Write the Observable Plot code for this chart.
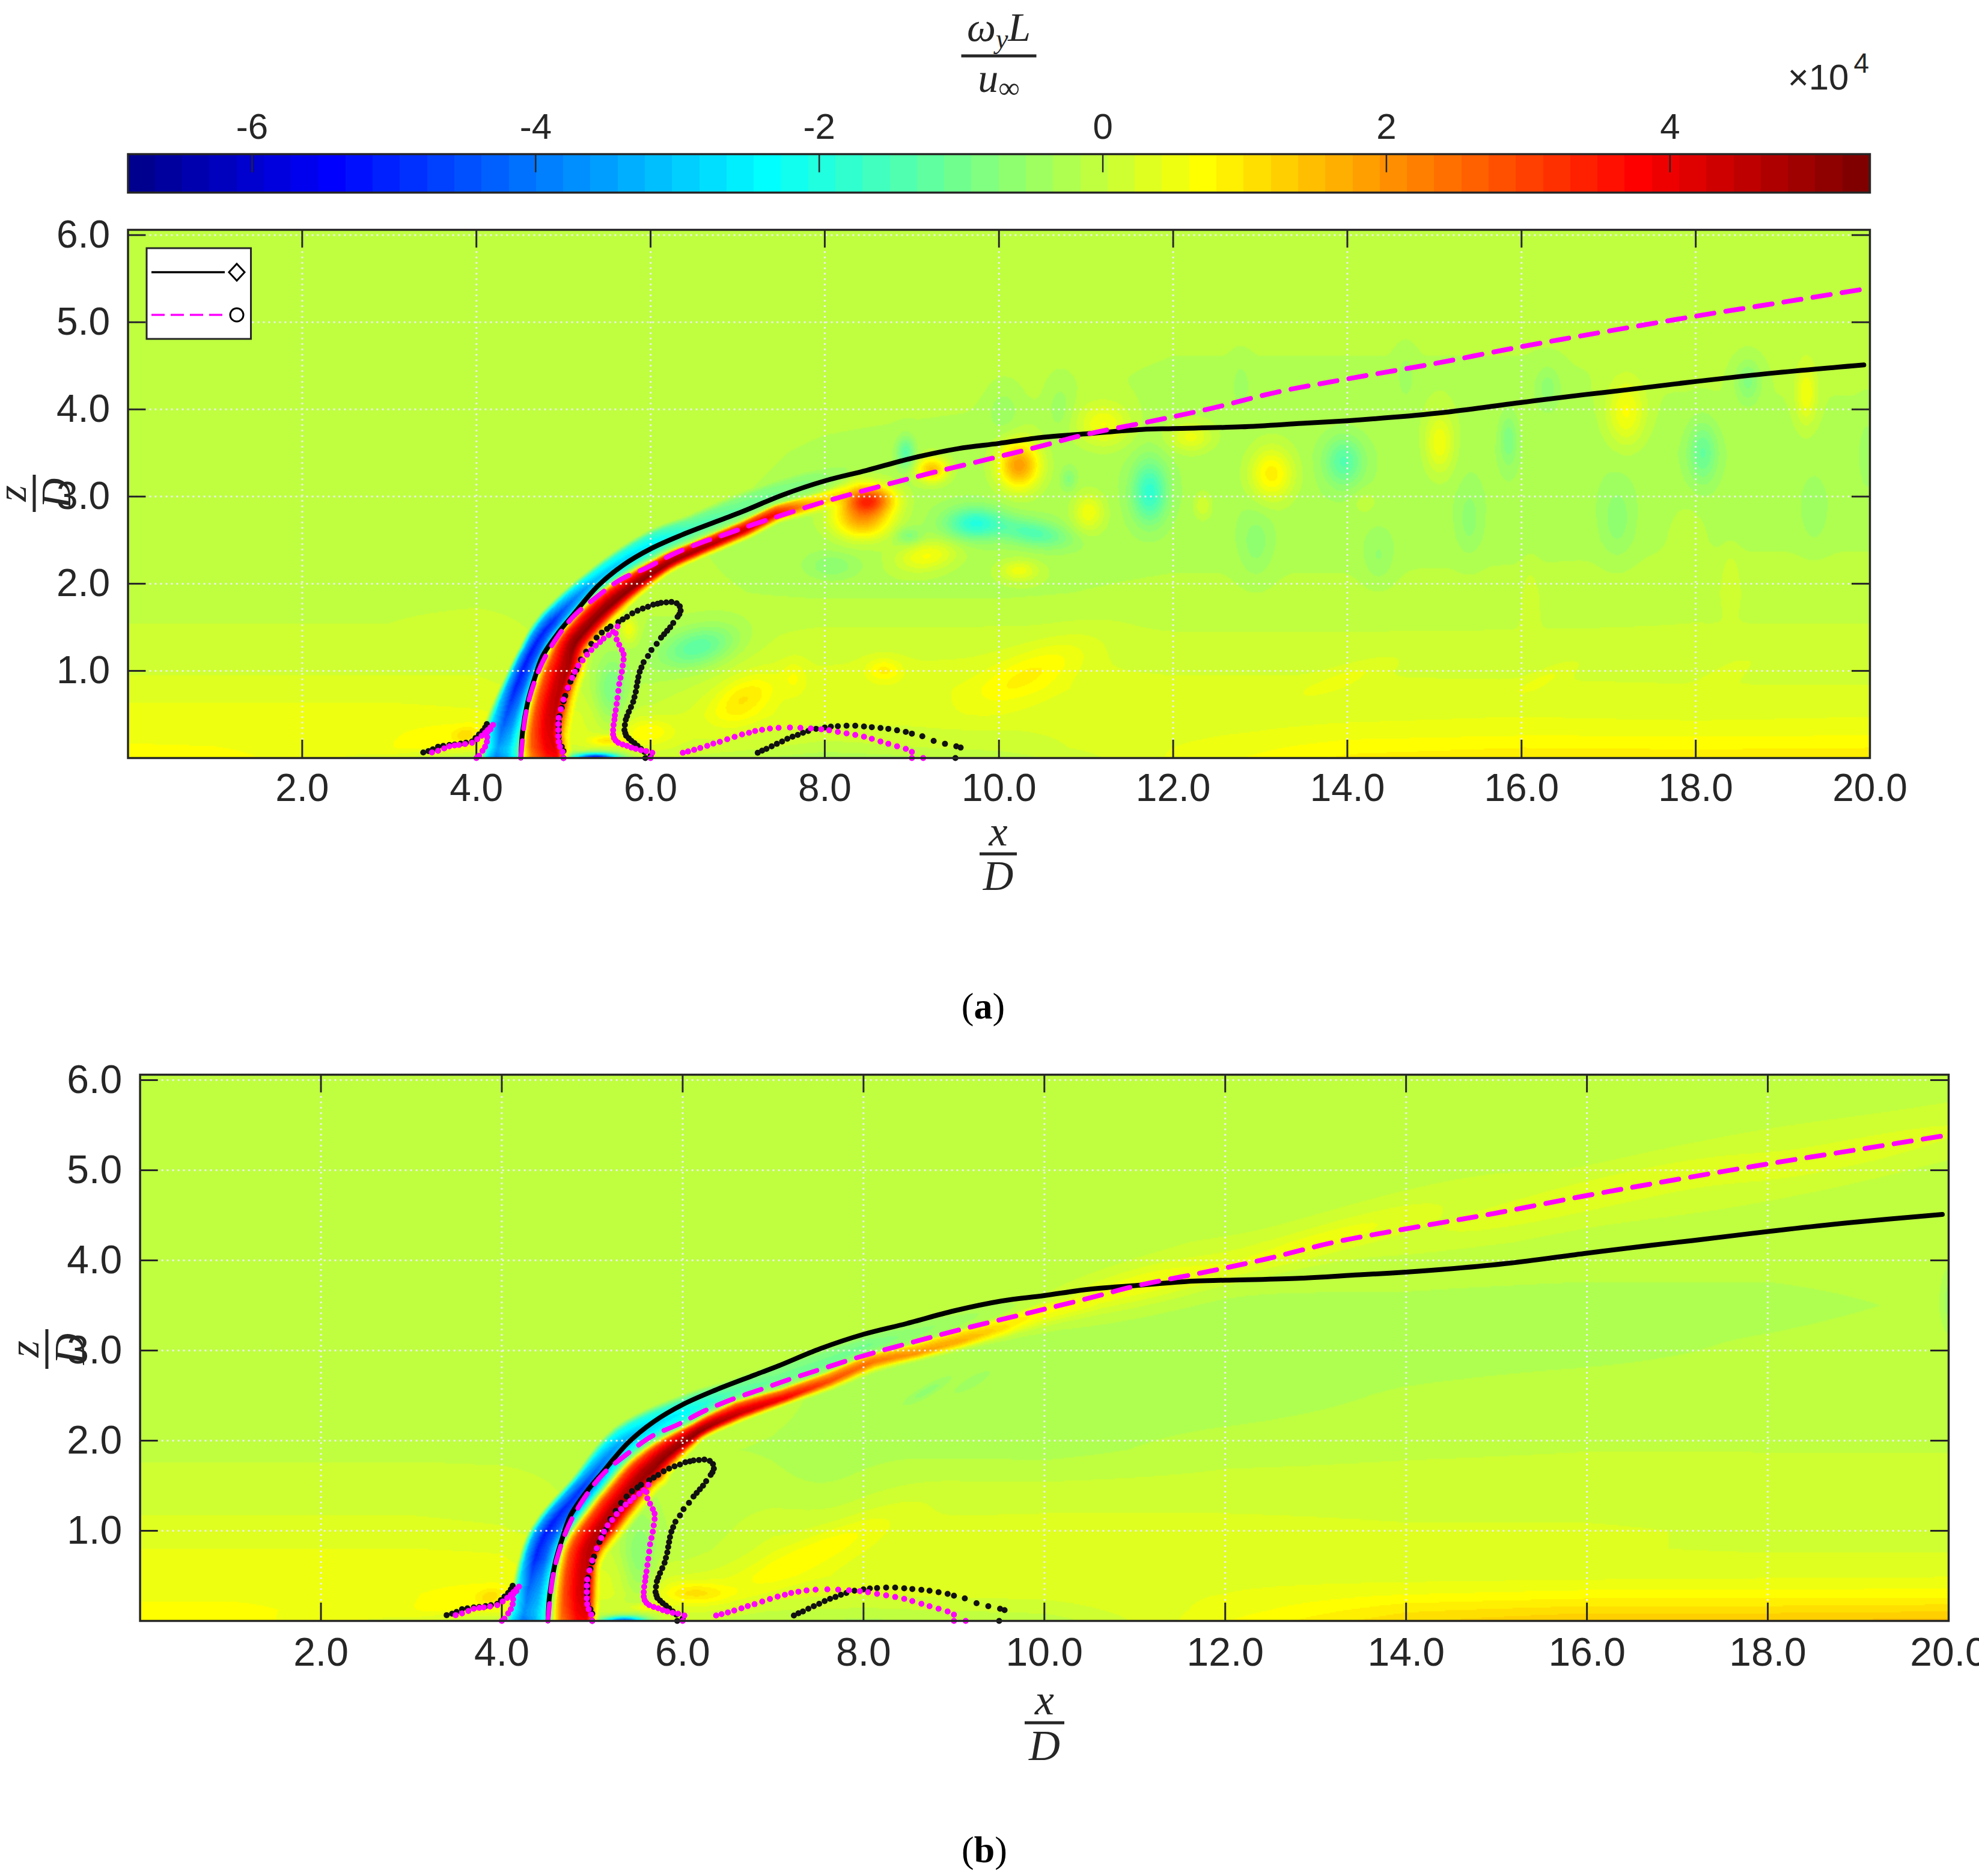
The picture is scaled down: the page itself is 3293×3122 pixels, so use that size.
<!DOCTYPE html>
<html><head><meta charset="utf-8">
<script src="https://cdn.jsdelivr.net/npm/d3@7"></script>
<script src="https://cdn.jsdelivr.net/npm/@observablehq/plot@0.6"></script>
<style>html,body{margin:0;padding:0;background:#fff;overflow:hidden}svg{display:block}</style>
</head><body><div id="page" style="width:3293px"></div>
<script>
const xTicks=[2,4,6,8,10,12,14,16,18,20];
const zTicks=[1,2,3,4,5,6];
const barTicks=[-6,-4,-2,0,2,4];
const vMin=-6.875, vMax=5.41, nLevels=64;

// trajectories (x/D, z/D)
const blackLine=[[4.51,0],[4.53,.3],[4.59,.645],[4.67,.92],[4.76,1.17],[4.95,1.45],[5.1,1.63],[5.39,1.97],[5.68,2.21],[6,2.4],[6.36,2.56],[6.8,2.73],[7.06,2.83],[7.52,3.02],[8,3.18],[8.48,3.3],[9,3.44],[9.53,3.55],[10,3.61],[10.5,3.68],[11,3.72],[11.64,3.77],[12,3.78],[12.78,3.8],[13.48,3.84],[14,3.87],[14.53,3.91],[15.15,3.97],[16,4.08],[16.73,4.17],[17.17,4.22],[18,4.32],[18.92,4.42],[19.93,4.51]];
const magentaLine=[[4.51,.0],[4.56,.46],[4.63,.76],[4.75,1.08],[4.91,1.36],[5.12,1.63],[5.37,1.84],[5.66,2.05],[5.95,2.18],[6.24,2.33],[6.55,2.46],[6.87,2.57],[7.18,2.68],[7.52,2.79],[7.96,2.93],[8.57,3.1],[9.18,3.26],[9.8,3.41],[10.41,3.56],[11.03,3.72],[11.73,3.86],[12.43,4.01],[13.2,4.2],[14,4.35],[14.97,4.52],[16,4.72],[16.95,4.89],[18,5.07],[19,5.23],[19.93,5.38]];

// separation / stagnation point traces
const blackDotsLeft=[[3.39,.064],[3.45,.08],[3.5,.1],[3.56,.13],[3.62,.14],[3.69,.15],[3.75,.155],[3.82,.165],[3.88,.175],[3.95,.19],[3.99,.23],[4.03,.27],[4.07,.31],[4.1,.35],[4.12,.39]];
const magentaDotsLeft=[[3.49,.064],[3.56,.083],[3.63,.11],[3.69,.135],[3.75,.145],[3.8,.15],[3.87,.16],[3.95,.175],[4.01,.215],[4.06,.255],[4.1,.29],[4.13,.32],[4.16,.35],[4.19,.38],[4.16,.33],[4.13,.3],[4.125,.24],[4.12,.186],[4.1,.13],[4.07,.083],[4.03,.025],[4,0]];
const blackLoop=[[5,0],[5,.08],[4.98,.13],[4.95,.186],[4.945,.24],[4.945,.3],[4.945,.36],[4.945,.415],[4.955,.48],[4.98,.576],[5,.65],[5.02,.714],[5.05,.8],[5.08,.875],[5.115,.95],[5.15,1.01],[5.2,1.13],[5.26,1.22],[5.32,1.31],[5.38,1.38],[5.44,1.44],[5.5,1.48],[5.54,1.51],[5.63,1.56],[5.68,1.59],[5.73,1.62],[5.79,1.66],[5.85,1.69],[5.91,1.715],[5.97,1.735],[6.03,1.76],[6.08,1.77],[6.12,1.78],[6.18,1.785],[6.24,1.79],[6.3,1.775],[6.335,1.74],[6.345,1.69],[6.33,1.65],[6.31,1.62],[6.26,1.55],[6.225,1.5],[6.19,1.46],[6.155,1.42],[6.12,1.38],[6.07,1.31],[6.01,1.24],[5.97,1.17],[5.92,1.1],[5.895,1.04],[5.875,.99],[5.86,.93],[5.85,.875],[5.84,.82],[5.83,.76],[5.815,.7],[5.8,.645],[5.775,.585],[5.75,.53],[5.73,.48],[5.715,.44],[5.705,.38],[5.7,.32],[5.71,.285],[5.72,.255],[5.75,.225],[5.78,.197],[5.815,.17],[5.85,.14],[5.89,.105],[5.93,.07],[6,.025],[5.94,0]];
const magentaLoop=[[5,0],[4.99,.07],[4.96,.13],[4.945,.186],[4.94,.25],[4.94,.32],[4.94,.39],[4.945,.46],[4.97,.56],[5,.67],[5.05,.805],[5.1,.92],[5.13,.99],[5.17,1.06],[5.22,1.12],[5.27,1.185],[5.32,1.24],[5.37,1.29],[5.42,1.33],[5.46,1.37],[5.52,1.41],[5.57,1.45],[5.62,1.51],[5.6,1.43],[5.61,1.36],[5.64,1.3],[5.67,1.24],[5.69,1.19],[5.69,1.13],[5.68,1.06],[5.67,.99],[5.655,.92],[5.64,.85],[5.63,.77],[5.62,.69],[5.61,.62],[5.6,.55],[5.59,.49],[5.585,.44],[5.575,.38],[5.57,.32],[5.57,.27],[5.58,.23],[5.6,.2],[5.63,.175],[5.68,.155],[5.73,.14],[5.78,.12],[5.83,.105],[5.89,.09],[5.95,.08],[6.02,.06],[6,0]];
const blackArch=[[7.23,.06],[7.28,.085],[7.33,.105],[7.39,.135],[7.45,.163],[7.51,.19],[7.57,.22],[7.63,.245],[7.69,.266],[7.75,.29],[7.81,.31],[7.9,.335],[8,.35],[8.07,.36],[8.15,.365],[8.25,.37],[8.35,.37],[8.45,.362],[8.54,.354],[8.64,.345],[8.73,.335],[8.83,.318],[8.93,.3],[9,.28],[9.12,.25],[9.25,.197],[9.38,.163],[9.51,.135],[9.56,.12],[9.5,0]];
const magentaArch=[[6.37,.06],[6.43,.075],[6.5,.094],[6.57,.115],[6.65,.14],[6.72,.165],[6.795,.186],[6.88,.215],[6.965,.243],[7.05,.27],[7.13,.29],[7.2,.31],[7.28,.324],[7.37,.338],[7.47,.347],[7.6,.35],[7.72,.347],[7.84,.34],[7.96,.33],[8.05,.318],[8.15,.3],[8.25,.283],[8.35,.266],[8.45,.245],[8.54,.22],[8.64,.19],[8.73,.163],[8.83,.135],[8.93,.105],[9,.07],[9,0],[9.13,0]];

// background vorticity read at coarse stations: rows fieldZ, columns fieldX (units of 1e4)
const fieldX=[0,1,2,3,4,5,6,7,8,10,12,14,16,18,20];
const fieldZ=[0,.12,.3,.5,.8,1,1.4,1.9,2.5,3,3.5,4.2,6.1];
const baseA=[
[.72,.72,.5,.3,-.2,0,.1,-.1,-.3,-.1,.45,.85,.95,.9,.95],
[.65,.62,.5,.5,.55,.2,.2,.1,-.05,.1,.42,.72,.8,.78,.8],
[.5,.5,.5,.55,.6,.3,.2,.25,.15,.2,.35,.5,.55,.55,.55],
[.5,.5,.5,.5,.45,.3,.1,.4,.3,.35,.3,.35,.4,.35,.4],
[.32,.32,.32,.32,.3,.1,-.1,.25,.3,.4,.3,.3,.3,.25,.25],
[.2,.2,.2,.2,.2,.05,-.15,.1,.25,.3,.2,.2,.15,.15,.15],
[.05,.05,.05,.05,.1,0,-.2,0,.1,.1,.05,.05,.05,.05,.05],
[0,0,0,0,0,0,-.1,-.15,-.2,-.2,-.1,-.1,-.05,0,0],
[0,0,0,0,0,0,-.1,-.2,-.3,-.3,-.25,-.25,-.25,-.2,-.2],
[0,0,0,0,0,0,-.05,-.15,-.25,-.3,-.3,-.3,-.3,-.25,-.25],
[0,0,0,0,0,0,0,-.1,-.2,-.3,-.3,-.3,-.3,-.3,-.25],
[0,0,0,0,0,0,0,0,-.05,-.1,-.2,-.2,-.2,-.15,-.15],
[0,0,0,0,0,0,0,0,0,0,0,0,0,0,0]];
const baseB=[
[.72,.72,.5,.3,-.1,0,.1,-.15,-.2,-.1,.6,1.15,1.4,1.4,1.45],
[.68,.68,.55,.5,.55,.1,.2,.05,0,.1,.5,.95,1.1,1.1,1.15],
[.55,.55,.55,.58,.62,.3,.35,.3,.25,.3,.42,.6,.68,.68,.7],
[.55,.55,.55,.55,.5,.3,.2,.4,.4,.4,.35,.32,.35,.38,.4],
[.42,.42,.42,.42,.4,.1,-.1,.3,.35,.4,.35,.3,.25,.2,.2],
[.3,.3,.3,.3,.25,.05,-.15,.2,.3,.3,.3,.25,.25,.2,.2],
[.13,.13,.13,.13,.1,0,-.15,0,.1,.15,.15,.15,.15,.12,.1],
[0,0,0,0,0,0,-.15,-.15,-.2,-.25,-.05,0,.03,.03,.03],
[0,0,0,0,0,0,-.05,-.1,-.25,-.3,-.3,-.12,0,0,0],
[0,0,0,0,0,0,0,-.05,-.2,-.3,-.3,-.3,-.25,-.1,0],
[0,0,0,0,0,0,0,0,0,-.1,-.2,-.2,-.25,-.25,-.1],
[0,0,0,0,0,0,0,0,0,0,0,0,0,0,0],
[0,0,0,0,0,0,0,0,0,0,0,0,0,0,0]];

// shear-layer stations along the black trajectory: x,z, blue outer edge, blue core offset, blue peak, red start, red core offset, red inner edge, red peak
const bandA=[
[4.49,-.1,-.45,-.28,-3.8,.03,.42,.6,3.9],
[4.51,.05,-.45,-.28,-3.8,.03,.42,.6,3.9],
[4.54,.35,-.45,-.23,-4.8,.03,.33,.56,3.9],
[4.63,.75,-.36,-.19,-5.3,.02,.32,.54,4.4],
[4.76,1.17,-.28,-.14,-5.3,.04,.33,.55,4.8],
[4.95,1.5,-.27,-.1,-5,.05,.26,.48,5.2],
[5.39,1.97,-.21,-.07,-3.2,.07,.27,.44,5.3],
[6,2.4,-.2,-.05,-2.4,.12,.26,.37,5.2],
[6.5,2.6,-.2,-.05,-1.4,.1,.22,.33,5],
[7,2.8,-.22,-.05,-1,.09,.21,.32,4.6],
[7.4,2.97,-.2,-.05,-.8,.07,.18,.29,3.8],
[7.8,3.1,-.2,-.05,-.6,.09,.2,.33,1.8],
[8.2,3.23,-.15,-.03,-.2,.1,.2,.3,.1]];
const bandB=[
[4.49,-.1,-.47,-.27,-4,.06,.43,.58,4],
[4.51,.05,-.47,-.27,-4,.06,.43,.58,4],
[4.57,.67,-.38,-.2,-5.4,.08,.39,.54,4.3],
[4.69,1,-.33,-.16,-5.3,.08,.37,.55,4.6],
[4.97,1.42,-.26,-.1,-4.8,.1,.38,.6,5],
[5.37,2,-.2,-.02,-3.2,.2,.45,.68,5.2],
[6,2.41,-.1,.1,-2.3,.24,.37,.47,5.3],
[6.5,2.62,-.05,.1,-1.3,.2,.35,.45,4.6],
[7,2.82,-.03,.15,-1,.26,.38,.46,4],
[7.5,3,-.02,.15,-.9,.26,.37,.47,3.1],
[8,3.18,0,.13,-.8,.23,.33,.45,2.6],
[8.5,3.32,0,.13,-.5,.25,.37,.46,2.2],
[9,3.44,0,.1,-.35,.22,.35,.46,1.9],
[9.5,3.55,0,.08,-.2,.18,.31,.46,1.2],
[10,3.61,0,.04,-.05,.08,.18,.42,.6],
[10.6,3.69,0,.02,0,.05,.12,.3,.1]];

// local patches: x,z, half-width, half-height, tilt (deg), peak
const patchesA=[
[8.5,2.97,.28,.16,0,3],[8.43,2.74,.33,.22,0,2],[9.23,3.31,.18,.14,0,1.7],[10.23,3.36,.24,.27,0,2.2],
[9.72,2.69,.33,.18,0,-1.6],[10.4,2.58,.4,.15,-10,-1.1],[9.17,2.32,.35,.17,10,.9],[10.23,2.15,.22,.12,0,.75],
[8.96,2.55,.15,.1,0,-.6],[8.08,2.2,.3,.15,0,-.45],[8.93,3.5,.1,.18,0,-1.1],[10.05,4,.2,.3,0,-.3],[10.7,4.05,.15,.3,0,-.28],
[6.55,1.27,.45,.22,15,-1.2],[5.75,1.47,.1,.15,0,.7],[5.55,.76,.2,.42,0,-.9],[7.08,.69,.4,.22,30,.7],[8.68,1.01,.2,.13,0,.6],
[10.4,1,.7,.25,25,.55],[7.65,.93,.15,.2,0,.35],[5.97,.3,.3,.15,0,.6],[5.5,.2,.2,.06,0,.9],[5.37,0,.25,.055,0,-5.5],[3.87,.26,.14,.09,20,.55],[3.4,.22,.45,.12,15,.2],
[11.73,3.05,.2,.35,0,-1.5],[11.03,2.82,.18,.22,0,.85],[13.13,3.26,.25,.3,0,1.2],[11.2,3.82,.3,.25,0,.85],[12.2,3.68,.25,.17,0,.75],
[13.96,3.4,.22,.28,0,-1.05],[15.06,3.61,.17,.35,0,.85],[15.85,3.65,.1,.3,0,-.6],[17.2,3.96,.22,.38,0,.85],[18.08,3.5,.17,.35,0,-.85],
[18.6,4.32,.15,.25,0,-.65],[19.27,4.18,.12,.35,0,.75],[17.1,2.73,.2,.45,0,-.4],[19.36,2.83,.17,.4,0,-.25],[16.3,4.25,.15,.25,0,-.45],
[15.4,2.73,.15,.4,0,-.35],[14.36,2.3,.18,.3,0,-.35],[12.95,2.45,.2,.4,0,-.4],[12.34,2.9,.1,.15,0,.5],[14.67,4.39,.1,.25,0,-.3],[12.78,4.28,.1,.25,0,-.3],
[19.97,3.5,.1,.4,0,-.25],[10.8,3.2,.08,.12,0,-.5],[14.2,2.94,.15,.15,0,.25],[17.9,2.5,.2,.4,0,.2],
[14,.93,.6,.12,20,.25],[16.3,.93,.4,.1,25,.25],[18.4,1,.3,.1,25,.2],[18.4,2.1,.1,.3,0,.25],[16.1,1.9,.1,.35,0,.2]];
const patchesB=[
[5.52,.64,.2,.55,0,-.75],[6.13,.31,.35,.12,0,.7],[5.6,.15,.2,.05,0,.7],[7.44,.75,1,.18,25,.45],[5.35,0,.22,.05,0,-4.2],
[3.87,.26,.14,.09,20,.5],[3.4,.22,.45,.12,15,.2],[7.6,1.55,.6,.5,0,-.15],
[11,3.72,1,.2,15,.62],[13,4.2,1.5,.18,17,.5],[16,4.72,2,.2,14,.4],[19,5.2,2,.22,13,.32],
[8.7,2.55,.25,.05,30,-.4],[9.2,2.65,.2,.05,30,-.25],[20,3.55,.08,.35,0,-.35]];

// MATLAB jet(64)
const clamp01=v=>Math.max(0,Math.min(1,v));
const jet=d3.range(1,nLevels+1).map(i=>{const t=i/64;
  const r=clamp01(Math.min(4*t-1.5,-4*t+4.5)),g=clamp01(Math.min(4*t-.5,-4*t+3.5)),b=clamp01(Math.min(4*t+.5,-4*t+2.5));
  return d3.rgb(r*255,g*255,b*255).formatHex();});
const step=(vMax-vMin)/nLevels;
const thresholds=d3.range(1,nLevels).map(i=>vMin+i*step);
const colorScale={type:"threshold",domain:thresholds,range:jet};
const ink="#262626";

const lerpTable=(xs,ys,t)=>{for(let i=1;i<xs.length;i++)if(t<=xs[i])return ys[i-1]+(ys[i]-ys[i-1])*(t-xs[i-1])/(xs[i]-xs[i-1]);return ys[ys.length-1];};
const blueOut=[[0,.4,1],[0,.66,1]],blueIn=[[0,.39,.71,1],[1,.84,.53,0]],redOut=[[0,.05,.25,.7,1],[0,.21,.6,.92,1]],redIn=[[0,.36,.67,1],[1,.66,.21,0]];
function bandValue(d,p){ // p=[bo,bc,bv,ro,rc,ri,rv]
  const [bo,bc,bv,ro,rc,ri,rv]=p;
  if(d<=bo||d>=ri)return 0;
  if(d<bc)return bv*lerpTable(blueOut[0],blueOut[1],(d-bo)/(bc-bo));
  if(d<ro)return bv*lerpTable(blueIn[0],blueIn[1],(d-bc)/(ro-bc));
  if(d<rc)return rv*lerpTable(redOut[0],redOut[1],(d-ro)/(rc-ro));
  return rv*lerpTable(redIn[0],redIn[1],(d-rc)/(ri-rc));
}
function makeField(band,patches,base){
  // spline through stations
  const pts=[];const n=band.length;
  for(let i=0;i<n-1;i++){
    const p0=band[Math.max(0,i-1)],p1=band[i],p2=band[i+1],p3=band[Math.min(n-1,i+2)];
    for(let k=0;k<6;k++){const t=k/6,t2=t*t,t3=t2*t;
      const cr=(a,b,c,d)=>.5*(2*b+(c-a)*t+(2*a-5*b+4*c-d)*t2+(3*b-a-3*c+d)*t3);
      pts.push({x:cr(p0[0],p1[0],p2[0],p3[0]),z:cr(p0[1],p1[1],p2[1],p3[1]),q:p1.slice(2).map((v,j)=>v+(p2[j+2]-v)*t)});}
  }
  const l=band[n-1];pts.push({x:l[0],z:l[1],q:l.slice(2)});
  const P=patches.map(([x,z,rx,rz,rot,a])=>{const c=Math.cos(rot*Math.PI/180),s=Math.sin(rot*Math.PI/180);return {x,z,rx,rz,c,s,a,R:3*Math.max(rx,rz)};});
  return (x,z)=>{
    // base
    let ix=d3.bisectRight(fieldX,x)-1;ix=Math.max(0,Math.min(fieldX.length-2,ix));
    let iz=d3.bisectRight(fieldZ,z)-1;iz=Math.max(0,Math.min(fieldZ.length-2,iz));
    const fx=(x-fieldX[ix])/(fieldX[ix+1]-fieldX[ix]),fz=(z-fieldZ[iz])/(fieldZ[iz+1]-fieldZ[iz]);
    let v=(base[iz][ix]*(1-fx)+base[iz][ix+1]*fx)*(1-fz)+(base[iz+1][ix]*(1-fx)+base[iz+1][ix+1]*fx)*fz;
    for(const b of P){const dx=x-b.x,dz=z-b.z;if(Math.abs(dx)>b.R||Math.abs(dz)>b.R)continue;
      const u=(dx*b.c+dz*b.s)/b.rx,w=(-dx*b.s+dz*b.c)/b.rz;const e=u*u+w*w;if(e<12)v+=b.a*Math.exp(-e);}
    // band
    if(x<11.5&&x>3.5&&z<4.3){
      let best=1e9,bi=0,bt=0,bsign=1;
      for(let i=0;i<pts.length-1;i++){const A=pts[i],B=pts[i+1];const ax=B.x-A.x,az=B.z-A.z,l2=ax*ax+az*az;
        let t=((x-A.x)*ax+(z-A.z)*az)/l2;t=t<0?0:t>1?1:t;const qx=A.x+t*ax-x,qz=A.z+t*az-z,d2=qx*qx+qz*qz;
        if(d2<best){best=d2;bi=i;bt=t;bsign=(ax*(z-A.z)-az*(x-A.x))<0?1:-1;}}
      if(best<1.2){const qa=pts[bi].q,qb=pts[bi+1].q;const q=qa.map((m,j)=>m+(qb[j]-m)*bt);v+=bandValue(bsign*Math.sqrt(best),q);}
    }
    return v;
  };
}
const X=d=>d[0],Y=d=>d[1];

function fraction(g,o){
  const h=g.append("g").attr("transform",`translate(${o.cx},${o.cy}) rotate(${o.rot||0})`).attr("font-family","Liberation Serif").attr("font-style","italic").attr("fill",ink).attr("font-size",o.size).attr("text-anchor","middle");
  h.append("rect").attr("x",-o.w/2).attr("y",-2.5).attr("width",o.w).attr("height",5).attr("fill",ink);
  h.append("text").attr("y",o.up).html(o.num);
  h.append("text").attr("y",o.down).html(o.den);
}
function overlay(draw){return ()=>{const g=d3.create("svg:g");draw(g);return g.node();};}
function caption(g,letter,cx,y){
  const t=g.append("text").attr("x",cx).attr("y",y).attr("text-anchor","middle").attr("font-family","Liberation Serif").attr("font-size",62).attr("fill","#000");
  t.html(`(<tspan font-weight="bold">${letter}</tspan>)`);
}

function panel(o){
  const top=o.zMax,tx=30/o.unit;
  const gridStyle={stroke:"#ececec",strokeWidth:3,strokeDasharray:"3 6"};
  const tickStyle={stroke:ink,strokeWidth:3};
  return Plot.plot({
    width:3293,height:o.height,marginLeft:o.left,marginRight:o.right,marginTop:o.top,marginBottom:o.bottom,
    style:{fontFamily:"Liberation Sans",background:"transparent",overflow:"visible"},
    x:{domain:[0,20],label:null},y:{domain:[0,top],label:null},color:colorScale,
    marks:[
      Plot.raster({fill:makeField(o.band,o.patches,o.base),x1:0,x2:20,y1:0,y2:top,pixelSize:2}),
      Plot.ruleX(xTicks,gridStyle),Plot.ruleY(zTicks,gridStyle),
      Plot.ruleX(xTicks,{...tickStyle,y1:0,y2:tx}),Plot.ruleX(xTicks,{...tickStyle,y1:top-tx,y2:top}),
      Plot.ruleY(zTicks,{...tickStyle,x1:0,x2:tx}),Plot.ruleY(zTicks,{...tickStyle,x1:20-tx,x2:20}),
      Plot.line(blackLine,{x:X,y:Y,stroke:"#000",strokeWidth:8,curve:"catmull-rom"}),
      Plot.line(magentaLine,{x:X,y:Y,stroke:"#ff00ff",strokeWidth:8,strokeDasharray:"29 20",curve:"catmull-rom"}),
      Plot.dot([...blackDotsLeft,...blackLoop,...blackArch],{x:X,y:Y,r:5,fill:"#111"}),
      Plot.dot([...magentaDotsLeft,...magentaLoop,...magentaArch],{x:X,y:Y,r:5,fill:"#ff00ff"}),
      Plot.frame({stroke:ink,strokeWidth:3.5}),
      Plot.axisX(xTicks,{anchor:"bottom",tickSize:0,tickPadding:o.xPad,fontSize:o.font,fill:ink,label:null}),
      Plot.axisY(zTicks,{anchor:"left",tickSize:0,tickPadding:o.yPad,fontSize:o.font,fill:ink,label:null}),
      overlay(o.extra)
    ]});
}

// colour bar
const levels=d3.range(nLevels).map(i=>({a:vMin+i*step,b:vMin+(i+1)*step,m:vMin+(i+.5)*step}));
const barPlot=Plot.plot({
  width:3293,height:330,marginLeft:212.5,marginRight:182,marginTop:256,marginBottom:10,
  style:{fontFamily:"Liberation Sans",background:"transparent",overflow:"visible"},
  x:{domain:[vMin,vMax],label:null},y:{domain:[0,1],axis:null},color:colorScale,
  marks:[
    Plot.rect(levels,{x1:"a",x2:"b",y1:0,y2:1,fill:"m",shapeRendering:"crispEdges"}),
    Plot.ruleX(barTicks,{y1:.52,y2:1,stroke:ink,strokeWidth:2.5}),
    Plot.frame({stroke:ink,strokeWidth:3.5}),
    Plot.axisX(barTicks,{anchor:"top",tickSize:0,tickPadding:26,fontSize:60,fill:ink,label:null,tickFormat:d=>String(d)}),
    overlay(g=>{
      fraction(g,{cx:1662,cy:93,w:125,size:68,up:-25,down:60,num:'ω<tspan dy="12" font-size="46">y</tspan><tspan dy="-12">L</tspan>',den:'u<tspan dy="10" font-size="50" font-style="normal">∞</tspan>'});
      const t=g.append("text").attr("x",3110).attr("y",149).attr("text-anchor","end").attr("font-size",60).attr("fill",ink).attr("font-family","Liberation Sans");
      t.html('×10<tspan dy="-28" dx="8" font-size="46">4</tspan>');
    })
  ]});

const aPlot=panel({height:1400,top:52,bottom:469,left:212.5,right:182,unit:145,zMax:6.06,band:bandA,patches:patchesA,base:baseA,xPad:26,yPad:30,font:64,
  extra:g=>{
    fraction(g,{cx:1661,cy:1091,w:62,size:70,up:-14,down:60,num:"x",den:"D"});
    fraction(g,{cx:57,cy:491,w:62,size:70,rot:-90,up:-14,down:60,num:"z",den:"D"});
    caption(g,"a",1636,1365);
    g.append("rect").attr("x",244).attr("y",83).attr("width",173.5).attr("height",151).attr("fill","#fff").attr("stroke",ink).attr("stroke-width",3);
    g.append("line").attr("x1",252).attr("x2",374).attr("y1",123).attr("y2",123).attr("stroke","#000").attr("stroke-width",3.5);
    g.append("line").attr("x1",252).attr("x2",374).attr("y1",194).attr("y2",194).attr("stroke","#ff00ff").attr("stroke-width",3.5).attr("stroke-dasharray","22 10");
    g.append("path").attr("d","M394 109L407 123L394 137L381 123Z").attr("fill","#fff").attr("stroke","#000").attr("stroke-width",3);
    g.append("circle").attr("cx",394).attr("cy",194).attr("r",11).attr("fill","#fff").attr("stroke","#000").attr("stroke-width",3);
  }});
const bPlot=panel({height:1392,top:58,bottom:425,left:232.6,right:51,unit:150,zMax:6.06,band:bandB,patches:patchesB,base:baseB,xPad:28,yPad:30,font:66,
  extra:g=>{
    fraction(g,{cx:1738,cy:1137,w:66,size:72,up:-14,down:62,num:"x",den:"D"});
    fraction(g,{cx:78,cy:515,w:66,size:72,rot:-90,up:-14,down:62,num:"z",den:"D"});
    caption(g,"b",1638,1369);
  }});
const page=document.getElementById("page");
page.append(barPlot,aPlot,bPlot);
</script></body></html>
